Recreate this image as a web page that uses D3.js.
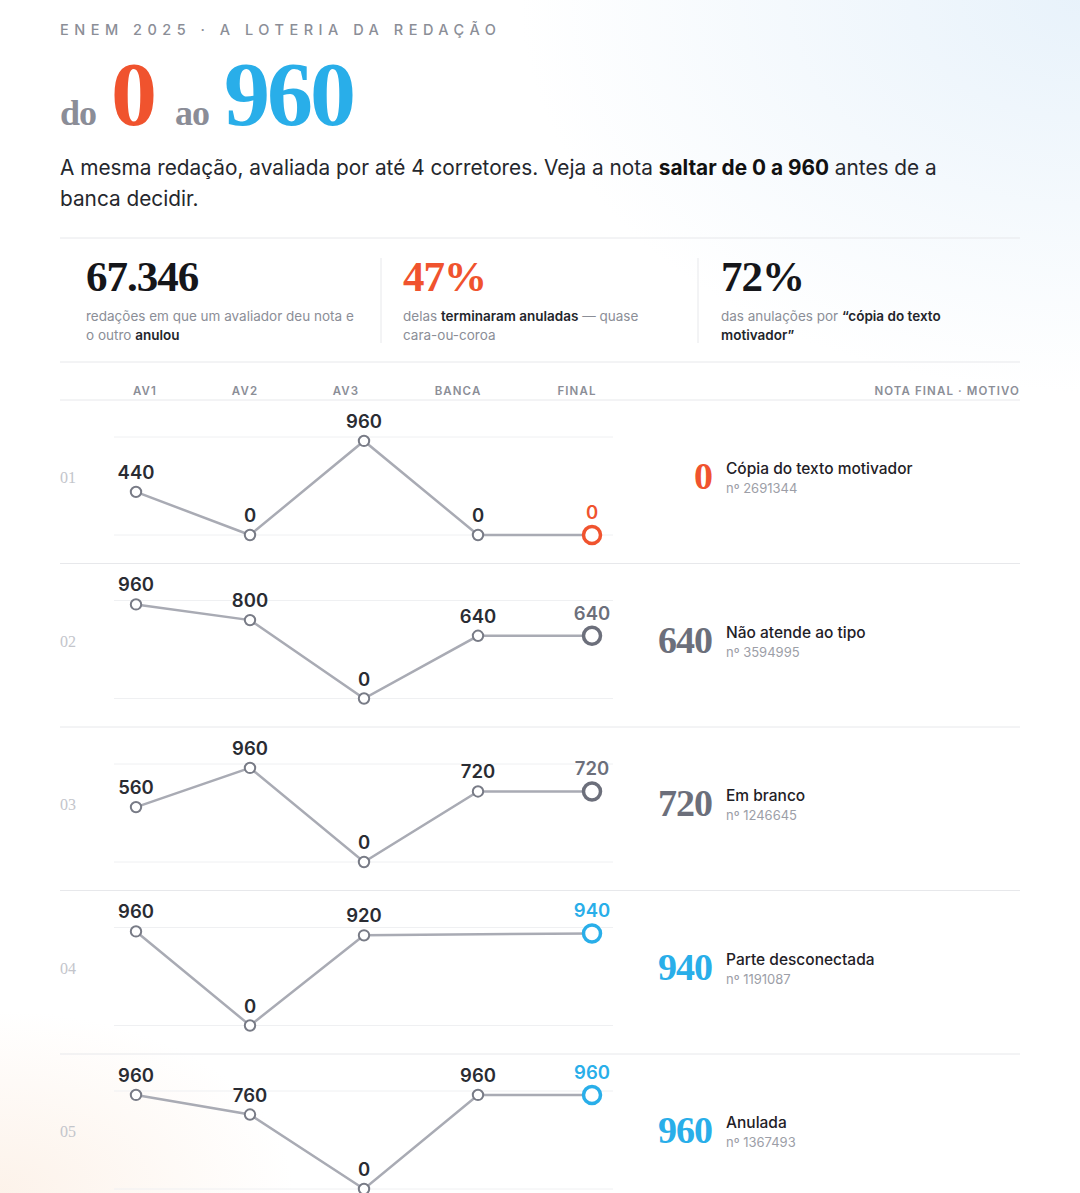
<!DOCTYPE html>
<html lang="pt-BR">
<head>
<meta charset="utf-8">
<script src="https://cdn.jsdelivr.net/npm/d3@7"></script>
<style>
  html, body { margin: 0; padding: 0; }
  body {
    width: 1080px;
    height: 1193px;
    overflow: hidden;
    background:
      radial-gradient(ellipse 800px 560px at 1080px 0px, rgba(228, 240, 250, 0.85), rgba(255, 255, 255, 0) 70%),
      radial-gradient(ellipse 420px 260px at 0px 1193px, rgba(252, 240, 230, 0.85), rgba(255, 255, 255, 0) 70%),
      #ffffff;
  }
  svg { display: block; }
</style>
</head>
<body>
<div id="chart"></div>
<script>
"use strict";

// Data
const columns = ["AV1", "AV2", "AV3", "BANCA", "FINAL"];
const rowIds = ["01", "02", "03", "04", "05"];
const av1 = [440, 960, 560, 960, 960];
const av2 = [0, 800, 960, 0, 760];
const av3 = [960, 0, 0, 920, 0];
const banca = [0, 640, 720, null, 960]; // row 04 never went to the banca
const finalScore = [0, 640, 720, 940, 960];
const reasons = ["Cópia do texto motivador", "Não atende ao tipo", "Em branco", "Parte desconectada", "Anulada"];
const protocols = ["2691344", "3594995", "1246645", "1191087", "1367493"];
const finalTone = ["red", "gray", "gray", "blue", "blue"];

const statValues = ["67.346", "47%", "72%"];
const statTones = ["dark", "red", "dark"];
// each description line is a list of [text, bold] pieces
const statLines = [
  [[["redações em que um avaliador deu nota e", false]], [["o outro ", false], ["anulou", true]]],
  [[["delas ", false], ["terminaram anuladas", true], [" — quase", false]], [["cara-ou-coroa", false]]],
  [[["das anulações por ", false], ["“cópia do texto", true]], [["motivador”", true]]]
];

const width = 1080;
const height = 1193;
const left = 60;
const right = 1020;

const tones = { red: "#f0532e", blue: "#29aee9", gray: "#6c6f7b", dark: "#15161a" };
const sans = "Inter, 'Noto Sans', sans-serif";
const serif = "'Liberation Serif', 'DejaVu Serif', serif";
const lineColor = "#e7e8eb";

const svg = d3.select("#chart")
  .append("svg")
  .attr("width", width)
  .attr("height", height);

// ---- header ----
svg.append("text")
  .attr("x", left)
  .attr("y", 35)
  .style("font-family", sans)
  .style("font-size", "14.5px")
  .style("font-weight", 500)
  .style("letter-spacing", "5.5px")
  .style("fill", "#8b8e97")
  .text("ENEM 2025 · A LOTERIA DA REDAÇÃO");

const titleParts = [
  { t: "do", x: 60, size: 36, color: "#8b8d97" },
  { t: "0", x: 111, size: 92, color: tones.red },
  { t: "ao", x: 175, size: 36, color: "#8b8d97" },
  { t: "960", x: 224, size: 92, color: tones.blue }
];
svg.selectAll("text.title")
  .data(titleParts)
  .join("text")
  .attr("class", "title")
  .attr("x", d => d.x)
  .attr("y", 125)
  .style("font-family", serif)
  .style("font-weight", 700)
  .style("font-size", d => d.size + "px")
  .style("letter-spacing", d => d.size > 50 ? "-3px" : "-1px")
  .style("fill", d => d.color)
  .text(d => d.t);

const sub = svg.append("text")
  .style("font-family", sans)
  .style("font-size", "20.8px")
  .style("fill", "#25272d");
const sub1 = sub.append("tspan").attr("x", left).attr("y", 175);
sub1.append("tspan").text("A mesma redação, avaliada por até 4 corretores. Veja a nota ");
sub1.append("tspan").style("font-weight", 700).style("fill", "#111").text("saltar de 0 a 960");
sub1.append("tspan").text(" antes de a");
sub.append("tspan").attr("x", left).attr("y", 206).text("banca decidir.");

// ---- stats strip ----
const hLines = [238, 362, 400];
svg.selectAll("line.rule")
  .data(hLines)
  .join("line")
  .attr("class", "rule")
  .attr("x1", left).attr("x2", right)
  .attr("y1", d => d).attr("y2", d => d)
  .attr("stroke", lineColor)
  .attr("stroke-width", 1);

const statX = [86, 403, 721];
const stats = svg.selectAll("g.stat")
  .data(statValues)
  .join("g")
  .attr("class", "stat")
  .attr("transform", (d, i) => `translate(${statX[i]},0)`);

stats.append("text")
  .attr("y", 291)
  .style("font-family", serif)
  .style("font-weight", 700)
  .style("font-size", "43px")
  .style("letter-spacing", "-1px")
  .style("fill", (d, i) => tones[statTones[i]])
  .text(d => d);

stats.each(function (d, i) {
  const g = d3.select(this);
  statLines[i].forEach((pieces, li) => {
    const t = g.append("text")
      .attr("y", 321 + li * 19)
      .style("font-family", sans)
      .style("font-size", "13.5px")
      .style("fill", "#8b8e97");
    pieces.forEach(([txt, bold]) => {
      t.append("tspan")
        .style("font-weight", bold ? 600 : 400)
        .style("fill", bold ? "#23252b" : null)
        .text(txt);
    });
  });
});

svg.selectAll("line.divider")
  .data([381, 698])
  .join("line")
  .attr("class", "divider")
  .attr("x1", d => d).attr("x2", d => d)
  .attr("y1", 258).attr("y2", 343)
  .attr("stroke", lineColor);

// ---- column headers ----
const x = d3.scalePoint().domain(columns).range([136, 592]);
// the header cells sit in their own grid, a little off the point columns
const headerX = [145, 245, 346, 458, 577];

svg.selectAll("text.colhead")
  .data(columns)
  .join("text")
  .attr("class", "colhead")
  .attr("x", (d, i) => headerX[i])
  .attr("y", 395)
  .attr("text-anchor", "middle")
  .style("font-family", sans)
  .style("font-size", "11.5px")
  .style("font-weight", 600)
  .style("letter-spacing", "1.1px")
  .style("fill", "#8b8e97")
  .text(d => d);

svg.append("text")
  .attr("x", right)
  .attr("y", 395)
  .attr("text-anchor", "end")
  .style("font-family", sans)
  .style("font-size", "11.5px")
  .style("font-weight", 600)
  .style("letter-spacing", "1.1px")
  .style("fill", "#8b8e97")
  .text("NOTA FINAL · MOTIVO");

// ---- rows ----
const rowHeight = 163.5;
const rowsTop = 400;

const rows = rowIds.map((id, i) => ({
  id,
  i,
  values: [av1[i], av2[i], av3[i], banca[i], finalScore[i]],
  final: finalScore[i],
  tone: tones[finalTone[i]],
  reason: reasons[i],
  protocol: protocols[i]
}));

const rowG = svg.selectAll("g.row")
  .data(rows)
  .join("g")
  .attr("class", "row")
  .attr("transform", d => `translate(0,${rowsTop + d.i * rowHeight})`);

// separator below each row (the last one runs off the page)
rowG.filter(d => d.i < rows.length - 1)
  .append("line")
  .attr("x1", left).attr("x2", right)
  .attr("y1", rowHeight).attr("y2", rowHeight)
  .attr("stroke", lineColor);

const y = d3.scaleLinear().domain([0, 1000]).range([135, 37]);

rowG.each(function (row) {
  const g = d3.select(this);

  // faint guides at 0 and 1000
  g.selectAll("line.guide")
    .data(y.domain())
    .join("line")
    .attr("class", "guide")
    .attr("x1", 114).attr("x2", 613)
    .attr("y1", d => y(d)).attr("y2", d => y(d))
    .attr("stroke", "#eff0f2");

  const pts = columns
    .map((c, k) => ({ col: c, v: row.values[k], last: k === columns.length - 1 }))
    .filter(p => p.v !== null);

  const line = d3.line().x(p => x(p.col)).y(p => y(p.v));
  g.append("path")
    .attr("d", line(pts))
    .attr("fill", "none")
    .attr("stroke", "#a9abb4")
    .attr("stroke-width", 2.5);

  g.selectAll("circle")
    .data(pts)
    .join("circle")
    .attr("cx", p => x(p.col))
    .attr("cy", p => y(p.v))
    .attr("r", p => p.last ? 8.5 : 5.2)
    .attr("fill", "#fff")
    .attr("stroke", p => p.last ? row.tone : "#787b86")
    .attr("stroke-width", p => p.last ? 3.5 : 2);

  g.selectAll("text.val")
    .data(pts)
    .join("text")
    .attr("class", "val")
    .attr("x", p => x(p.col))
    .attr("y", p => y(p.v) - (p.last ? 16 : 13))
    .attr("text-anchor", "middle")
    .style("font-family", sans)
    .style("font-size", "18.5px")
    .style("font-weight", 600)
    .style("fill", p => p.last ? row.tone : "#2a2c33")
    .text(p => p.v);

  // row number
  g.append("text")
    .attr("x", left)
    .attr("y", 83)
    .style("font-family", serif)
    .style("font-size", "16px")
    .style("fill", "#c3c5cb")
    .text(row.id);

  // final score and reason
  g.append("text")
    .attr("x", 712)
    .attr("y", 89)
    .attr("text-anchor", "end")
    .style("font-family", serif)
    .style("font-weight", 700)
    .style("font-size", "38px")
    .style("letter-spacing", "-1px")
    .style("fill", row.tone)
    .text(row.final);

  g.append("text")
    .attr("x", 726)
    .attr("y", 74)
    .style("font-family", sans)
    .style("font-size", "15.5px")
    .style("font-weight", 500)
    .style("fill", "#1f2127")
    .text(row.reason);

  g.append("text")
    .attr("x", 726)
    .attr("y", 93)
    .style("font-family", sans)
    .style("font-size", "13px")
    .style("fill", "#9c9ea7")
    .text("nº " + row.protocol);
});
</script>
</body>
</html>
